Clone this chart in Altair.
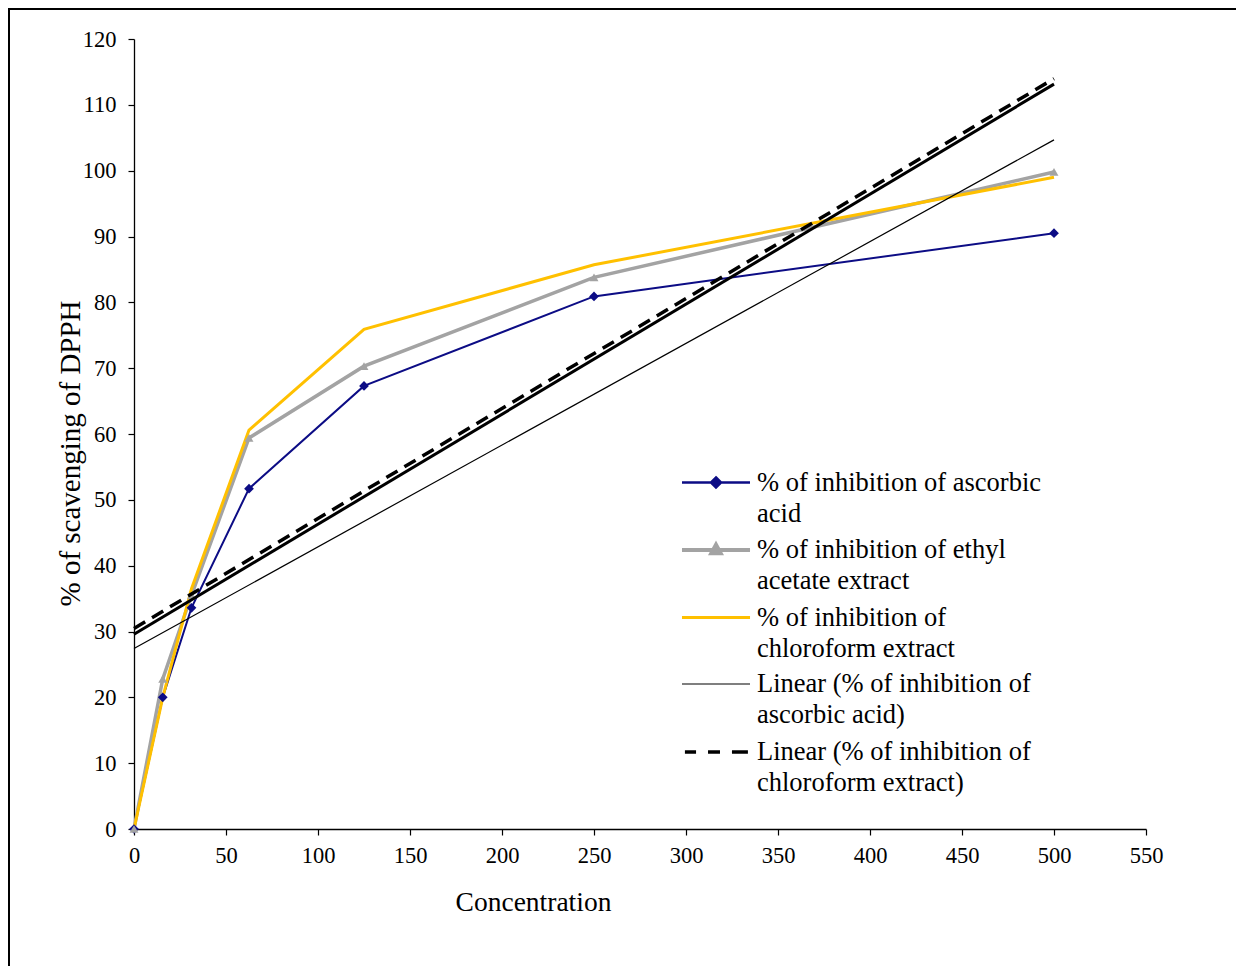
import altair as alt
import pandas as pd

# ---- data ----
concentration = [0, 15.625, 31.25, 62.5, 125, 250, 500]
ascorbic = [0, 20.0, 33.6, 51.7, 67.3, 80.9, 90.5]
ethyl_acetate = [0, 22.8, 35.5, 59.4, 70.3, 83.8, 99.8]
chloroform = [0, 20.0, 36.5, 60.6, 75.9, 85.7, 99.0]

series_keys = ["asc", "eth", "chl"]
legend_labels = [
    "% of inhibition of ascorbic|acid",
    "% of inhibition of ethyl|acetate extract",
    "% of inhibition of|chloroform extract",
    "Linear (% of inhibition of|ascorbic acid)",
    "Linear (% of inhibition of|chloroform extract)",
]
x_ticks = [0, 50, 100, 150, 200, 250, 300, 350, 400, 450, 500, 550]
y_ticks = [0, 10, 20, 30, 40, 50, 60, 70, 80, 90, 100, 110, 120]

rows = []
for key, vals in zip(series_keys, [ascorbic, ethyl_acetate, chloroform]):
    for c, v in zip(concentration, vals):
        rows.append({"series": key, "conc": c, "value": v})
df = pd.DataFrame(rows)

FONT = "Liberation Serif"
BLUE = "#0c0c85"
GRAY = "#a3a3a3"
YELLOW = "#ffc000"

xenc = alt.X(
    "conc:Q",
    scale=alt.Scale(domain=[0, 550], nice=False),
    axis=alt.Axis(values=x_ticks, title="Concentration", titleX=399, titleY=81,
                  titleBaseline="alphabetic", titleAlign="center", titleFontSize=27.5),
)
yenc = alt.Y(
    "value:Q",
    scale=alt.Scale(domain=[0, 120], nice=False),
    axis=alt.Axis(values=y_ticks, title="% of scavenging of DPPH", titleX=-55, titleY=414,
                  titleBaseline="alphabetic", titleAlign="center", titleFontSize=29),
)

base = alt.Chart(df)


def data_line(key, color, width):
    return base.transform_filter(alt.datum.series == key).mark_line(
        color=color, strokeWidth=width
    ).encode(x=xenc, y=yenc)


def data_points(key, color, shape, size):
    return base.transform_filter(alt.datum.series == key).mark_point(
        filled=True, color=color, shape=shape, size=size, opacity=1
    ).encode(x=xenc, y=yenc)


def trend(key, width, dash=None):
    kw = dict(color="black", strokeWidth=width)
    if dash:
        kw["strokeDash"] = dash
    return base.transform_filter(alt.datum.series == key).transform_regression(
        "conc", "value"
    ).mark_line(**kw).encode(x=xenc, y=yenc)


# legend built from scales (no data drawn); symbol unit = 21 px
paths = [
    "M-1.62,0H1.62M0,-0.24L0.24,0L0,0.24L-0.24,0Z",
    "M-1.62,0H1.62M0,-0.25L0.22,0.15L-0.22,0.15Z",
    "M-1.62,0H1.62",
    "M-1.62,0H1.62",
    "M-1.48,0H-0.95M-0.38,0H0.19M0.76,0H1.52",
]
leg_colors = [BLUE, GRAY, YELLOW, "black", "black"]
leg_widths = [2.5, 4, 3, 1.2, 3.5]

leg = alt.Legend(
    title=None, orient="none", legendX=545, legendY=421,
    labelExpr="split(datum.label, '|')", labelFont=FONT, labelFontSize=26.5,
    labelLimit=600, symbolSize=1764, symbolOpacity=1, symbolOffset=14,
    rowPadding=0, labelOffset=18, padding=0, labelBaseline="middle", labelColor="black",
)

legend_layer = alt.Chart(df).transform_filter("false").mark_point(filled=True).encode(
    fill=alt.Fill("series:N", scale=alt.Scale(domain=legend_labels, range=leg_colors), legend=leg),
    stroke=alt.Stroke("series:N", scale=alt.Scale(domain=legend_labels, range=leg_colors), legend=leg),
    shape=alt.Shape("series:N", scale=alt.Scale(domain=legend_labels, range=paths), legend=leg),
    strokeWidth=alt.StrokeWidth("series:N", scale=alt.Scale(type="ordinal", domain=legend_labels, range=leg_widths), legend=leg),
)

frame = alt.Chart(pd.DataFrame({"a": [0]})).mark_rect(
    fill="transparent", stroke="black", strokeWidth=2
).encode(x=alt.value(-125), x2=alt.value(1400), y=alt.value(-30), y2=alt.value(1200))

chart = alt.layer(
    data_line("asc", BLUE, 2),
    data_line("eth", GRAY, 3.5),
    data_line("chl", YELLOW, 3),
    data_points("asc", BLUE, "diamond", 95),
    data_points("eth", GRAY, "triangle-up", 80),
    trend("asc", 1.2),
    trend("eth", 3),
    trend("chl", 3.5, [13, 8]),
    legend_layer,
    frame,
).properties(
    width=1012, height=790,
    autosize=alt.AutoSizeParams(type="none"),
    padding={"left": 126, "top": 31, "right": 90, "bottom": 137},
    background="white",
).configure(
    font=FONT, style={"guide-label": {"lineHeight": 31}}
).configure_view(stroke=None).configure_axis(
    grid=False, domainColor="black", tickColor="black", labelColor="black",
    titleColor="black", labelFont=FONT, titleFont=FONT, labelFontSize=22.5,
    titleFontWeight="normal", tickSize=6, domainWidth=1.3, tickWidth=1.2,
    labelFlush=False,
).configure_axisX(labelPadding=9).configure_axisY(labelPadding=12)

chart.save("out.html", embed_options={"renderer": "svg", "actions": False})
